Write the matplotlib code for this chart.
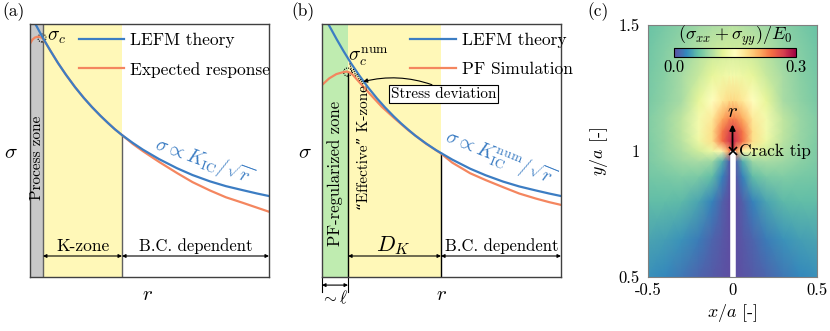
import numpy as np
import matplotlib
matplotlib.use("Agg")
import matplotlib.pyplot as plt
from matplotlib.patches import Ellipse

plt.rcParams["font.family"] = ["cmr10", "DejaVu Serif"]
plt.rcParams["mathtext.fontset"] = "cm"
plt.rcParams["axes.unicode_minus"] = False

BLUE = "#3c7dc3"
ORANGE = "#f4865f"
YELLOW = "#fff8b8"
GRAY = "#c8c8c8"
GREEN = "#bfecb0"

# ---- panel (a) (r, sigma in arbitrary 0..10 units)
r_lefm_a = [0.13, 0.3, 0.54, 0.85, 1.17, 1.5, 1.88, 2.25, 2.59, 2.95, 3.26, 3.55, 3.85,
            4.3, 4.73, 5.4, 6.15, 6.8, 7.53, 8.2, 8.91, 9.5, 10.0]
s_lefm_a = [10.16, 9.87, 9.45, 8.95, 8.46, 8.0, 7.51, 7.08, 6.72, 6.37, 6.09, 5.84, 5.61,
            5.30, 5.03, 4.66, 4.30, 4.03, 3.78, 3.59, 3.43, 3.30, 3.20]
r_exp_a = [0.0, 0.1, 0.2, 0.32, 0.44, 0.54, 0.85, 1.17, 1.5, 1.88, 2.25, 2.59, 2.95, 3.26,
           3.55, 3.85, 4.3, 4.73, 5.4, 6.15, 6.8, 7.53, 8.2, 8.91, 9.5, 10.0]
s_exp_a = [9.22, 9.38, 9.46, 9.50, 9.48, 9.43, 8.95, 8.46, 8.0, 7.51, 7.08, 6.72, 6.37, 6.09,
           5.84, 5.61, 5.26, 4.97, 4.55, 4.11, 3.75, 3.42, 3.15, 2.93, 2.74, 2.58]
zones_a = [0.0, 0.54, 3.85, 10.0]

# ---- panel (b)
r_lefm_b = [0.17, 0.35, 0.6, 0.9, 1.22, 1.55, 1.93, 2.3, 2.64, 3.0, 3.31, 3.6, 3.9,
            4.35, 4.78, 5.45, 6.2, 6.85, 7.58, 8.25, 8.95, 9.5, 10.0]
s_lefm_b = [10.16, 9.85, 9.42, 8.93, 8.44, 7.98, 7.49, 7.06, 6.70, 6.35, 6.07, 5.83, 5.59,
            5.28, 5.01, 4.64, 4.28, 4.02, 3.77, 3.58, 3.42, 3.30, 3.20]
r_pf_b = [0.0, 0.3, 0.6, 0.9, 1.05, 1.2, 1.3, 1.6, 2.0, 2.5, 3.0, 3.6, 4.35, 4.98,
          5.45, 6.2, 6.85, 7.58, 8.25, 8.95, 9.5, 10.0]
s_pf_b = [7.59, 7.85, 8.02, 8.10, 8.12, 8.06, 7.98, 7.66, 7.24, 6.73, 6.30, 5.81, 5.27, 4.88,
          4.52, 4.10, 3.83, 3.55, 3.30, 3.10, 2.96, 2.85]
zones_b = [0.0, 1.09, 4.98, 10.0]

# ---- panel (c): (sigma_xx + sigma_yy)/E0, right half (x >= 0), mirrored
x_half = [0.0, 0.02, 0.06, 0.12, 0.2, 0.3, 0.4, 0.5]
y_rows = [0.5, 0.65, 0.8, 0.9, 0.96, 1.0, 1.04, 1.08, 1.13, 1.2, 1.3, 1.4, 1.5]
field_half = [
    [0.0, 0.0, 0.003, 0.007, 0.012, 0.022, 0.030, 0.034],
    [0.0, 0.0, 0.005, 0.012, 0.024, 0.036, 0.042, 0.045],
    [0.0, 0.0, 0.010, 0.028, 0.045, 0.056, 0.058, 0.058],
    [0.0, 0.005, 0.027, 0.058, 0.070, 0.072, 0.069, 0.066],
    [0.0, 0.010, 0.050, 0.085, 0.090, 0.085, 0.077, 0.070],
    [0.28, 0.22, 0.16, 0.13, 0.11, 0.092, 0.080, 0.070],
    [0.28, 0.27, 0.24, 0.18, 0.13, 0.098, 0.082, 0.071],
    [0.265, 0.26, 0.235, 0.18, 0.135, 0.10, 0.083, 0.072],
    [0.23, 0.228, 0.21, 0.17, 0.135, 0.10, 0.083, 0.072],
    [0.185, 0.183, 0.172, 0.15, 0.122, 0.09, 0.078, 0.068],
    [0.135, 0.134, 0.13, 0.122, 0.105, 0.088, 0.076, 0.067],
    [0.11, 0.11, 0.108, 0.105, 0.095, 0.082, 0.073, 0.065],
    [0.095, 0.095, 0.093, 0.09, 0.085, 0.076, 0.068, 0.062],
]

W, H = 830, 331
fig = plt.figure(figsize=(W / 100, H / 100), dpi=100)


def px_axes(x0, y0, x1, y1):
    return fig.add_axes([x0 / W, 1 - y1 / H, (x1 - x0) / W, (y1 - y0) / H])


def arrow(ax, x0, x1, y, **kw):
    ax.annotate("", xy=(x1, y), xytext=(x0, y),
                arrowprops=dict(arrowstyle="<|-|>", color="k", lw=0.8,
                                mutation_scale=5, shrinkA=0, shrinkB=0), **kw)


def schematic(ax):
    ax.set_xlim(0, 10)
    ax.set_ylim(0, 10)
    ax.set_xticks([])
    ax.set_yticks([])
    for sp in ax.spines.values():
        sp.set_color("#404040")
        sp.set_linewidth(1.0)


# ================= (a)
ax = px_axes(30, 24, 269, 277)
schematic(ax)
ax.axvspan(zones_a[0], zones_a[1], color=GRAY, lw=0)
ax.axvline(zones_a[1], color="#606060", lw=1.0)
ax.axvspan(zones_a[1], zones_a[2], color=YELLOW, lw=0)
ax.plot([zones_a[2]] * 2, [0, 5.61], color="#606060", lw=1.0)
ax.plot(r_exp_a, s_exp_a, color=ORANGE, lw=1.6, label="Expected response")
ax.plot(r_lefm_a, s_lefm_a, color=BLUE, lw=1.6, label="LEFM theory")
ax.add_patch(Ellipse((0.5, 9.45), 0.34, 0.32, fill=False, ls=(0, (1, 1)), lw=0.8, color="k"))
ax.text(0.72, 9.5, r"$\sigma_c$", fontsize=14, va="center", ha="left")
h, l = ax.get_legend_handles_labels()
ax.legend(h[::-1], l[::-1], loc="upper left", bbox_to_anchor=(0.205, 0.965), frameon=False,
          fontsize=12.5, handlelength=2.6, handletextpad=0.35, labelspacing=0.78,
          borderpad=0, borderaxespad=0)
ax.text(7.25, 4.55, r"$\sigma\propto K_{\rm IC}/\sqrt{r}$", color=BLUE, fontsize=14,
        rotation=-20, ha="center", va="center", rotation_mode="anchor")
ax.text(0.29, 4.7, "Process zone", rotation=90, fontsize=11, ha="center", va="center")
arrow(ax, zones_a[1], zones_a[2], 0.83)
arrow(ax, zones_a[2], zones_a[3], 0.83)
ax.text(2.2, 1.23, "K-zone", fontsize=12.5, ha="center", va="center")
ax.text(6.95, 1.23, "B.C. dependent", fontsize=12, ha="center", va="center")
ax.text(-0.08, 0.49, r"$\sigma$", transform=ax.transAxes, fontsize=15, ha="center", va="center")
ax.text(0.49, -0.07, r"$r$", transform=ax.transAxes, fontsize=15, ha="center", va="center")

# ================= (b)
ax = px_axes(322, 24, 561, 277)
schematic(ax)
ax.axvspan(zones_b[0], zones_b[1], color=GREEN, lw=0)
ax.axvspan(zones_b[1], zones_b[2], color=YELLOW, lw=0)
ax.plot([zones_b[1]] * 2, [0, 8.12], color="k", lw=1.0)
ax.plot([zones_b[2]] * 2, [0, 4.9], color="k", lw=1.0)
ax.plot(r_pf_b, s_pf_b, color=ORANGE, lw=1.6, label="PF Simulation")
ax.plot(r_lefm_b, s_lefm_b, color=BLUE, lw=1.6, label="LEFM theory")
for rr, top, bot in [(1.22, 8.44, 8.05), (1.37, 8.22, 7.9), (1.52, 8.02, 7.75), (1.67, 7.82, 7.6)]:
    ax.plot([rr - 0.06, rr + 0.06], [top, bot], color="k", lw=0.8, ls=(0, (1, 1)))
ax.add_patch(Ellipse((1.07, 8.1), 0.34, 0.32, fill=False, ls=(0, (1, 1)), lw=0.8, color="k"))
ax.text(1.1, 8.7, r"$\sigma_c^{\rm num}$", fontsize=14, va="center", ha="left")
ax.annotate("", xy=(1.72, 7.72), xytext=(4.6, 7.6),
            arrowprops=dict(arrowstyle="-|>", color="k", lw=0.8, mutation_scale=6,
                            connectionstyle="arc3,rad=0.15", shrinkA=0, shrinkB=0))
ax.text(5.1, 7.23, "Stress deviation", fontsize=11, ha="center", va="center",
        bbox=dict(boxstyle="square,pad=0.12", fc="white", ec="k", lw=0.8))
h, l = ax.get_legend_handles_labels()
ax.legend(h[::-1], l[::-1], loc="upper left", bbox_to_anchor=(0.37, 0.965), frameon=False,
          fontsize=12.5, handlelength=2.6, handletextpad=0.35, labelspacing=0.78,
          borderpad=0, borderaxespad=0)
ax.text(7.45, 4.7, r"$\sigma\propto K_{\rm IC}^{\rm num}/\sqrt{r}$", color=BLUE, fontsize=14,
        rotation=-22, ha="center", va="center", rotation_mode="anchor")
ax.text(0.54, 4.11, "PF-regularized zone", rotation=90, fontsize=12, ha="center", va="center")
ax.text(1.78, 5.1, "\u201cEffective\u201d K-zone", rotation=90, fontsize=11, ha="center", va="center")
arrow(ax, zones_b[1], zones_b[2], 0.83)
arrow(ax, zones_b[2], zones_b[3], 0.83)
ax.text(2.98, 1.26, r"$D_K$", fontsize=16, ha="center", va="center")
ax.text(7.5, 1.23, "B.C. dependent", fontsize=12, ha="center", va="center")
arrow(ax, zones_b[0], zones_b[1], -0.32, annotation_clip=False)
for xx in zones_b[:2]:
    ax.plot([xx, xx], [0, -0.6], color="k", lw=0.8, clip_on=False)
ax.text(0.54, -0.8, r"$\sim\ell$", fontsize=12, ha="center", va="center")
ax.text(-0.07, 0.49, r"$\sigma$", transform=ax.transAxes, fontsize=15, ha="center", va="center")
ax.text(0.5, -0.07, r"$r$", transform=ax.transAxes, fontsize=15, ha="center", va="center")

# ================= (c)
ax = px_axes(648, 25, 817, 277)
half = np.array(field_half)
xs = np.concatenate([-np.array(x_half[:0:-1]), x_half])
field = np.concatenate([half[:, :0:-1], half], axis=1)
X, Y = np.meshgrid(xs, y_rows)
mesh = ax.pcolormesh(X, Y, field, cmap="Spectral_r", vmin=0, vmax=0.3, shading="gouraud")
ax.plot([0, 0], [0.5, 1.0], color="white", lw=4, solid_capstyle="butt")
ax.plot([0], [1.0], "kx", ms=6, mew=1.2)
ax.annotate("", xy=(0, 1.105), xytext=(0, 1.0),
            arrowprops=dict(arrowstyle="-|>", color="k", lw=1.3, mutation_scale=8,
                            shrinkA=0, shrinkB=0))
ax.text(0, 1.155, r"$r$", fontsize=15, ha="center", va="center")
ax.text(0.04, 1.0, "Crack tip", fontsize=12.5, ha="left", va="center")
ax.set_xlim(-0.5, 0.5)
ax.set_ylim(0.5, 1.5)
ax.set_xticks([-0.5, 0, 0.5], ["-0.5", "0", "0.5"])
ax.set_yticks([0.5, 1, 1.5], ["0.5", "1", "1.5"])
ax.tick_params(length=0, labelsize=12)
ax.tick_params(axis="x", pad=4)
ax.tick_params(axis="y", pad=6)
for sp in ax.spines.values():
    sp.set_color("#808080")
ax.set_xlabel(r"$x/a$ [-]", fontsize=13, labelpad=3)
ax.set_ylabel(r"$y/a$ [-]", fontsize=13, labelpad=6)

cax = px_axes(674, 48, 796, 57)
cb = fig.colorbar(mesh, cax=cax, orientation="horizontal", ticks=[0, 0.3])
cb.set_ticklabels(["0.0", "0.3"])
cax.tick_params(length=0, labelsize=12, pad=2)
cb.outline.set_linewidth(0.8)
cax.set_title(r"$(\sigma_{xx}+\sigma_{yy})/E_0$", fontsize=13, pad=2)

fig.text(14 / W, 1 - 12 / H, "(a)", fontsize=12.5, ha="center", va="center")
fig.text(303 / W, 1 - 12 / H, "(b)", fontsize=12.5, ha="center", va="center")
fig.text(598 / W, 1 - 12 / H, "(c)", fontsize=12.5, ha="center", va="center")

fig.savefig("out.png", dpi=100)
